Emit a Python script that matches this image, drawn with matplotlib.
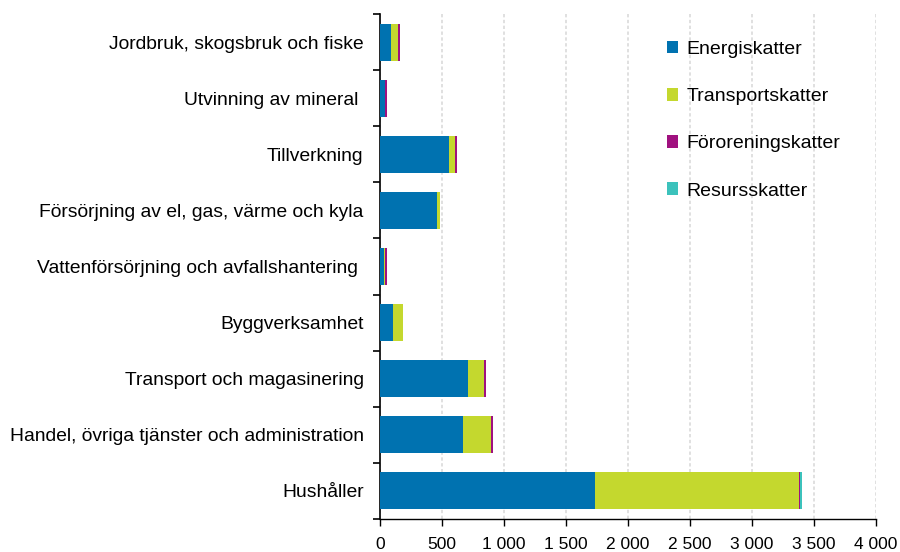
import matplotlib.pyplot as plt
import numpy as np
from matplotlib.ticker import FuncFormatter, FixedLocator

plt.rcParams['font.family'] = ['Liberation Sans', 'DejaVu Sans']

categories = [
    "Jordbruk, skogsbruk och fiske",
    "Utvinning av mineral ",
    "Tillverkning",
    "Försörjning av el, gas, värme och kyla",
    "Vattenförsörjning och avfallshantering ",
    "Byggverksamhet",
    "Transport och magasinering",
    "Handel, övriga tjänster och administration",
    "Hushåller",
]
energi = [90, 40, 556, 457, 28, 105, 712, 672, 1734]
transport = [55, 0, 50, 25, 12, 75, 129, 220, 1648]
fororening = [12, 15, 13, 2, 16, 3, 12, 16, 4]
resurs = [0, 0, 0, 0, 0, 0, 0, 0, 16]

series = [
    ("Energiskatter", energi, "#0072b0"),
    ("Transportskatter", transport, "#c4d82e"),
    ("Föroreningskatter", fororening, "#a0117f"),
    ("Resursskatter", resurs, "#3cc2bc"),
]

fig, ax = plt.subplots(figsize=(9, 5.52), dpi=100)
fig.subplots_adjust(left=0.4225, right=0.973, top=0.9746, bottom=0.0598)

y = np.arange(len(categories))
left = np.zeros(len(categories))
for name, vals, color in series:
    ax.barh(y, vals, left=left, height=0.66, color=color, label=name, zorder=3)
    left += np.array(vals)

ax.set_ylim(len(categories) - 0.5, -0.5)
ax.set_xlim(0, 4000)
ax.set_yticks(y)
ax.set_yticklabels(categories, fontsize=13.9)
ax.tick_params(axis='y', length=0, pad=12)
ax.yaxis.set_minor_locator(FixedLocator(np.arange(-0.5, len(categories), 1)))
ax.tick_params(axis='y', which='minor', length=5, width=1.2, direction='out')

ax.set_xticks(np.arange(0, 4001, 500))
ax.xaxis.set_major_formatter(FuncFormatter(lambda v, p: f"{int(v):,}".replace(",", " ")))
ax.tick_params(axis='x', length=5, width=1, labelsize=12.5, pad=8)
ax.grid(axis='x', color='#dadada', linestyle=(0, (2, 1.5)), linewidth=1.2, zorder=0)

for s in ['top', 'right']:
    ax.spines[s].set_visible(False)
ax.spines['left'].set_linewidth(1.2)
ax.spines['bottom'].set_linewidth(1)

leg = ax.legend(loc='upper left', bbox_to_anchor=(0.5625, 0.962), borderaxespad=0,
                frameon=False, fontsize=14, handlelength=0.6, handleheight=0.6,
                handletextpad=0.4, labelspacing=1.55)

fig.savefig("out.png", dpi=100)
